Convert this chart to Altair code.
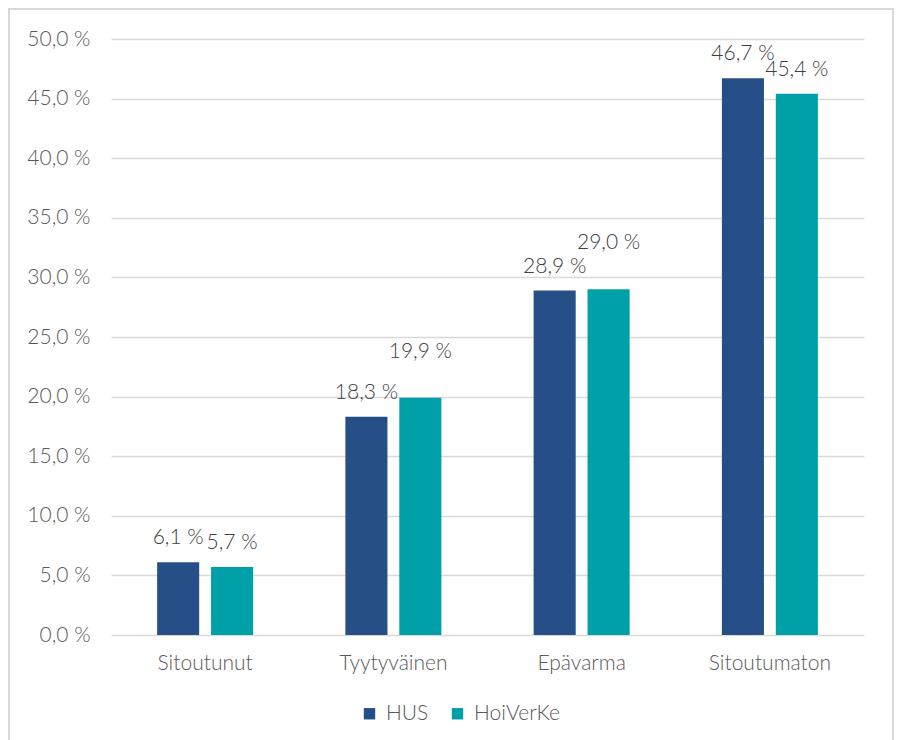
import altair as alt
import pandas as pd

categories = ["Sitoutunut", "Tyytyväinen", "Epävarma", "Sitoutumaton"]
series = ["HUS", "HoiVerKe"]
hus = [6.1, 18.3, 28.9, 46.7]
hoiverke = [5.7, 19.9, 29.0, 45.4]
y_ticks = [0, 5, 10, 15, 20, 25, 30, 35, 40, 45, 50]
colors = ["#264F87", "#00A0A9"]

rows = []
for c, a, b in zip(categories, hus, hoiverke):
    rows.append({"cat": c, "series": series[0], "value": a})
    rows.append({"cat": c, "series": series[1], "value": b})
df = pd.DataFrame(rows)

FONT = "Lato"
FW = 300
TXT = "#595959"
FS = 21

x = alt.X("cat:N", sort=categories, title=None,
          scale=alt.Scale(paddingInner=0.49, paddingOuter=0.245),
          axis=alt.Axis(labelAngle=0, domain=False, ticks=False, labelPadding=17,
                        labelFont=FONT, labelFontWeight=FW, labelFontSize=FS,
                        labelColor=TXT, grid=False))
xoff = alt.XOffset("series:N", sort=series,
                   scale=alt.Scale(paddingInner=0.22, paddingOuter=0))
y = alt.Y("value:Q", title=None,
          scale=alt.Scale(domain=[0, 50], nice=False),
          axis=alt.Axis(values=y_ticks, domain=False, ticks=False, labelPadding=21,
                        labelFont=FONT, labelFontWeight=FW, labelFontSize=FS,
                        labelColor=TXT, gridColor="#D9D9D9", gridWidth=1.5,
                        labelExpr="replace(format(datum.value, '.1f'), '.', ',') + ' %'"))

base = alt.Chart(df)

bars = base.mark_bar().encode(
    x=x, xOffset=xoff, y=y,
    color=alt.Color("series:N", sort=series,
                    scale=alt.Scale(domain=series, range=colors),
                    legend=alt.Legend(title=None, orient="none", direction="horizontal",
                                      legendX=248, legendY=664, symbolType="square",
                                      symbolSize=130, symbolStrokeWidth=0,
                                      labelFont=FONT, labelFontWeight=FW,
                                      labelFontSize=FS, labelColor=TXT,
                                      labelOffset=6, columnPadding=18))
)

lab_base = base.transform_calculate(
    lab="replace(format(datum.value, '.1f'), '.', ',') + ' %'",
    hv="datum.series == 'HUS' ? datum.value : null"
).transform_joinaggregate(
    husv="max(hv)", groupby=["cat"]
).transform_calculate(
    lifted="datum.series != 'HUS' && datum.value >= datum.husv && datum.value - datum.husv < 2"
)

labels_normal = lab_base.transform_filter("!datum.lifted").mark_text(
    font=FONT, fontWeight=FW, fontSize=FS, color="#404040", baseline="middle", dy=-24
).encode(x=x, xOffset=xoff, y=y, text="lab:N")

labels_lifted = lab_base.transform_filter("datum.lifted").mark_text(
    font=FONT, fontWeight=FW, fontSize=FS, color="#404040", baseline="middle", dy=-46
).encode(x=x, xOffset=xoff, y=y, text="lab:N")

border = alt.Chart(pd.DataFrame({"a": [0]})).mark_rect(
    fill=None, stroke="#D9D9D9", strokeWidth=2
).encode(
    x=alt.value(-102), x2=alt.value(782), y=alt.value(-30), y2=alt.value(720)
)

chart = alt.layer(border, bars, labels_normal, labels_lifted).properties(
    width=753, height=596,
    autosize=alt.AutoSizeParams(type="none"),
    padding={"left": 111, "top": 39, "right": 37, "bottom": 105},
    background="white"
).configure_view(stroke=None)

chart.save("out.html", embed_options={"renderer": "svg", "actions": False})
